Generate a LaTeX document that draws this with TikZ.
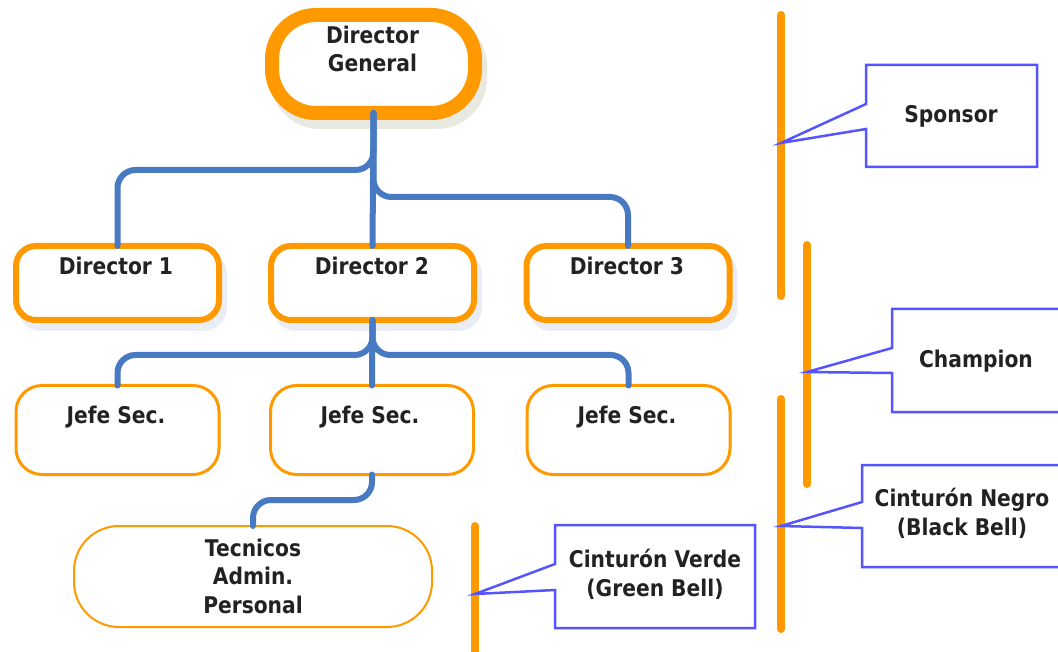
\documentclass[tikz,border=0pt]{standalone}
\usepackage{fontspec}
\setmainfont{DejaVu Sans}[FakeStretch=0.88]
\usetikzlibrary{calc}
\pgfdeclarelayer{bg}
\pgfsetlayers{bg,main}

\definecolor{orgline}{RGB}{255,153,0}
\definecolor{linkblue}{RGB}{72,122,196}
\definecolor{calloutblue}{RGB}{85,85,255}
\definecolor{shadowtone}{RGB}{234,238,244}
\definecolor{shadowtop}{RGB}{232,234,226}
\definecolor{inktext}{RGB}{34,34,34}

\begin{document}
\begin{tikzpicture}[x=1pt,y=-1pt,
  orgbox/.style={draw=orgline, fill=white, rounded corners=#1, inner sep=0, outer sep=0},
  topbox/.style={orgbox=44, line width=14, minimum width=203, minimum height=98},
  dirbox/.style={orgbox=20, line width=6, minimum width=203, minimum height=74},
  secbox/.style={orgbox=26, line width=3, minimum width=203, minimum height=89},
  staffbox/.style={orgbox=45, line width=2, minimum width=358, minimum height=101},
  linkline/.style={draw=linkblue, line width=6, rounded corners=18, line cap=round},
  beltbar/.style={draw=orgline, line width=8, line cap=round},
  callbox/.style={inner sep=0, outer sep=0},
  calloutline/.style={draw=calloutblue, line width=2.5, line join=miter},
  lbl/.style={font=\fontsize{23}{28.5}\selectfont\bfseries, text=inktext, inner sep=0, anchor=base, align=center}
]
\useasboundingbox (0,0) rectangle (1058,652);

% organisation boxes
\node[topbox] (dg) at (373.5,64) {};
\node[dirbox] (d1) at (117.5,283) {};
\node[dirbox] (d2) at (372.5,283) {};
\node[dirbox] (d3) at (628,283) {};
\node[secbox] (s1) at (117.5,430) {};
\node[secbox] (s2) at (372,430) {};
\node[secbox] (s3) at (628.5,430) {};
\node[staffbox] (tec) at (253,576.5) {};

% soft shadows behind the upper boxes
\begin{pgfonlayer}{bg}
  \fill[shadowtop, rounded corners=50] ($(dg.north west)+(-2,1)$) rectangle ($(dg.south east)+(12,16)$);
  \foreach \b in {d1,d2,d3}
    \fill[shadowtone, rounded corners=23] ($(\b.north west)+(2,5)$) rectangle ($(\b.south east)+(8,11)$);
\end{pgfonlayer}

% branch levels
\coordinate (jl) at (0,170);
\coordinate (jr) at (0,197);
\coordinate (js) at (0,355);
\coordinate (jt) at (0,500);

% connectors
\draw[linkline] (dg.south) |- (d1.north |- jl) -- (d1.north);
\draw[linkline] (dg.south) |- (d3.north |- jr) -- (d3.north);
\draw[linkline] (dg.south) -- (d2.north);
\draw[linkline] (d2.south) |- (s1.north |- js) -- (s1.north);
\draw[linkline] (d2.south) |- (s3.north |- js) -- (s3.north);
\draw[linkline] (d2.south) -- (s2.north);
\draw[linkline] (s2.south) |- (tec.north |- jt) -- (tec.north);

% box texts (multi-line nodes sit on the baseline of their last line)
\node[lbl] (dg-t) at (372.5,72) {Director\\General};
\node[lbl] (d1-t) at (116,275) {Director 1};
\node[lbl] (d2-t) at (372,275) {Director 2};
\node[lbl] (d3-t) at (627,275) {Director 3};
\node[lbl] (s1-t) at (116,423) {Jefe Sec.};
\node[lbl] (s2-t) at (370,423) {Jefe Sec.};
\node[lbl] (s3-t) at (627,423) {Jefe Sec.};
\node[lbl] (tec-t) at (253,613) {Tecnicos\\Admin.\\Personal};

% belt level bars
\coordinate (bA1) at (781,15);  \coordinate (bA2) at (781,296);
\coordinate (bB1) at (807,245); \coordinate (bB2) at (807,484);
\coordinate (bC1) at (781,399); \coordinate (bC2) at (781,629);
\coordinate (bD1) at (475,526); \coordinate (bD2) at (475,680);
\draw[beltbar] (bA1) -- (bA2);
\draw[beltbar] (bB1) -- (bB2);
\draw[beltbar] (bC1) -- (bC2);
\draw[beltbar] (bD1) -- (bD2);

% callout tips on the bars
\coordinate (tsp) at (781,143);
\coordinate (tch) at (807,372);
\coordinate (tng) at (781,526);
\coordinate (tvd) at (475,594);

% callouts
\node[callbox, minimum width=171, minimum height=102] (sp) at (951.5,116) {};
\draw[calloutline] (sp.north west) -- (sp.north east) -- (sp.south east) -- (sp.south west)
  -- ($(sp.west)+(0,13)$) -- (tsp) -- ($(sp.west)+(0,-12)$) -- cycle;

\node[callbox, minimum width=183, minimum height=103] (ch) at (983.5,360.5) {};
\draw[calloutline] (ch.north west) -- (ch.north east) -- (ch.south east) -- (ch.south west)
  -- ($(ch.west)+(0,12.5)$) -- (tch) -- ($(ch.west)+(0,-12.5)$) -- cycle;

\node[callbox, minimum width=213, minimum height=102] (ng) at (968.5,516) {};
\draw[calloutline] (ng.north west) -- (ng.north east) -- (ng.south east) -- (ng.south west)
  -- ($(ng.west)+(0,12)$) -- (tng) -- ($(ng.west)+(0,-14)$) -- cycle;

\node[callbox, minimum width=200, minimum height=103] (vd) at (655,576.5) {};
\draw[calloutline] (vd.north west) -- (vd.north east) -- (vd.south east) -- (vd.south west)
  -- ($(vd.west)+(0,13.5)$) -- (tvd) -- ($(vd.west)+(0,-12.5)$) -- cycle;

\node[lbl] (sp-t) at (951,123) {Sponsor};
\node[lbl] (ch-t) at (976,368) {Champion};
\node[lbl] (ng-t) at (962,535) {Cinturón Negro\\(Black Bell)};
\node[lbl] (vd-t) at (655,596) {Cinturón Verde\\(Green Bell)};
\end{tikzpicture}
\end{document}
